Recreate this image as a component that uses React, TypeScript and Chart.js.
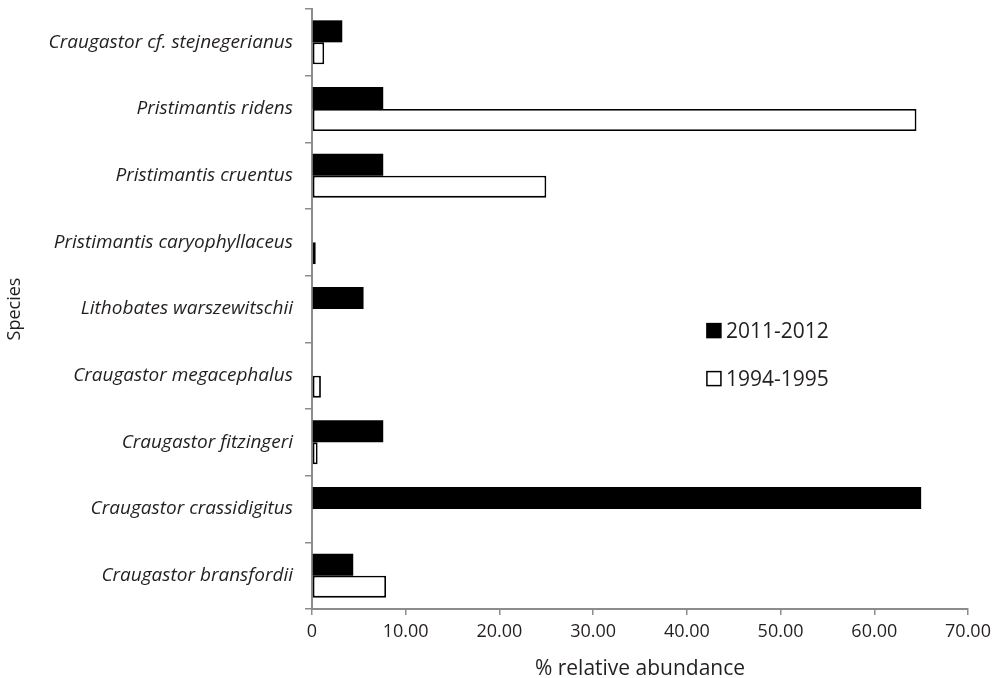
import React, { useEffect, useRef } from "react";
import { Chart, registerables } from "chart.js";

Chart.register(...registerables);

const species = [
  "Craugastor cf. stejnegerianus",
  "Pristimantis ridens",
  "Pristimantis cruentus",
  "Pristimantis caryophyllaceus",
  "Lithobates warszewitschii",
  "Craugastor megacephalus",
  "Craugastor fitzingeri",
  "Craugastor crassidigitus",
  "Craugastor bransfordii",
];

const series2011 = [3.23, 7.6, 7.6, 0, 5.5, 0, 7.6, 65.0, 4.4];
const series1994 = [1.3, 64.5, 25.0, 0.4, 0, 0.95, 0.6, 0, 7.9];

const seriesLabels = ["2011-2012", "1994-1995"];
const xTicks = [0, 10, 20, 30, 40, 50, 60, 70];

const FONT = "'Open Sans', sans-serif";
const TEXT = "#231f20";
const AXIS = "#8c8c8c";

const legendPlugin = {
  id: "insideLegend",
  afterDraw(chart: any) {
    const { ctx, chartArea } = chart;
    const x0 = chartArea.left + (chartArea.right - chartArea.left) * 0.602;
    const y0 = chartArea.top + (chartArea.bottom - chartArea.top) * 0.536;
    const gap = 48;
    ctx.save();
    chart.data.datasets.forEach((ds: any, i: number) => {
      const y = y0 + i * gap;
      ctx.fillStyle = ds.backgroundColor;
      ctx.fillRect(x0, y - 7, 14, 14);
      ctx.lineWidth = 1.5;
      ctx.strokeStyle = "#000";
      ctx.strokeRect(x0, y - 7, 14, 14);
      ctx.fillStyle = TEXT;
      ctx.font = `21px ${FONT}`;
      ctx.textBaseline = "middle";
      ctx.textAlign = "left";
      ctx.fillText(ds.label, x0 + 19, y + 1);
    });
    ctx.restore();
  },
};

export default function App() {
  const ref = useRef<HTMLCanvasElement>(null);
  useEffect(() => {
    if (!ref.current) return;
    const chart = new Chart(ref.current, {
      type: "bar",
      data: {
        labels: species,
        datasets: [
          {
            label: seriesLabels[0],
            data: series2011,
            backgroundColor: "#000000",
            borderWidth: 0,
          },
          {
            label: seriesLabels[1],
            data: series1994,
            backgroundColor: "#ffffff",
            borderColor: "#000000",
            borderWidth: 1.8,
            borderSkipped: false,
          },
        ],
      },
      options: {
        indexAxis: "y",
        animation: false,
        responsive: false,
        maintainAspectRatio: false,
        layout: { padding: { top: 9, right: 30, left: 0, bottom: 0 } },
        datasets: { bar: { categoryPercentage: 0.66, barPercentage: 1 } },
        plugins: {
          legend: { display: false },
          tooltip: { enabled: false },
        },
        scales: {
          x: {
            min: 0,
            max: 70,
            afterBuildTicks(scale: any) {
              scale.ticks = xTicks.map((v) => ({ value: v }));
            },
            afterFit(scale: any) {
              scale.height = 69;
              scale.paddingRight = 0;
            },
            border: { color: AXIS, width: 2 },
            grid: {
              drawOnChartArea: false,
              color: AXIS,
              tickLength: 6,
              lineWidth: 1.5,
            },
            ticks: {
              color: TEXT,
              font: { family: FONT, size: 18 },
              padding: 6,
              maxRotation: 0,
              callback: (v: any) => (Number(v) === 0 ? "0" : Number(v).toFixed(2)),
            },
            title: {
              display: true,
              text: "% relative abundance",
              color: TEXT,
              font: { family: FONT, size: 21 },
              padding: { top: 4, bottom: -4 },
            },
          },
          y: {
            offset: true,
            afterFit(scale: any) {
              scale.width = 312;
              scale.paddingTop = 0;
              scale.paddingBottom = 0;
            },
            border: { color: AXIS, width: 2 },
            grid: {
              offset: true,
              drawOnChartArea: false,
              color: AXIS,
              tickLength: 7,
              lineWidth: 1.5,
            },
            ticks: {
              color: TEXT,
              font: { family: FONT, size: 19, style: "italic" },
              padding: 12,
            },
            title: {
              display: true,
              text: "Species",
              color: TEXT,
              font: { family: FONT, size: 18 },
              padding: { top: 4, bottom: 0 },
            },
          },
        },
      },
      plugins: [legendPlugin],
    });
    return () => chart.destroy();
  }, []);

  return (
    <div style={{ position: "fixed", left: 0, top: 0, width: 998, height: 678, background: "#fff" }}>
      <canvas ref={ref} width={998} height={678} style={{ width: 998, height: 678 }} />
    </div>
  );
}
